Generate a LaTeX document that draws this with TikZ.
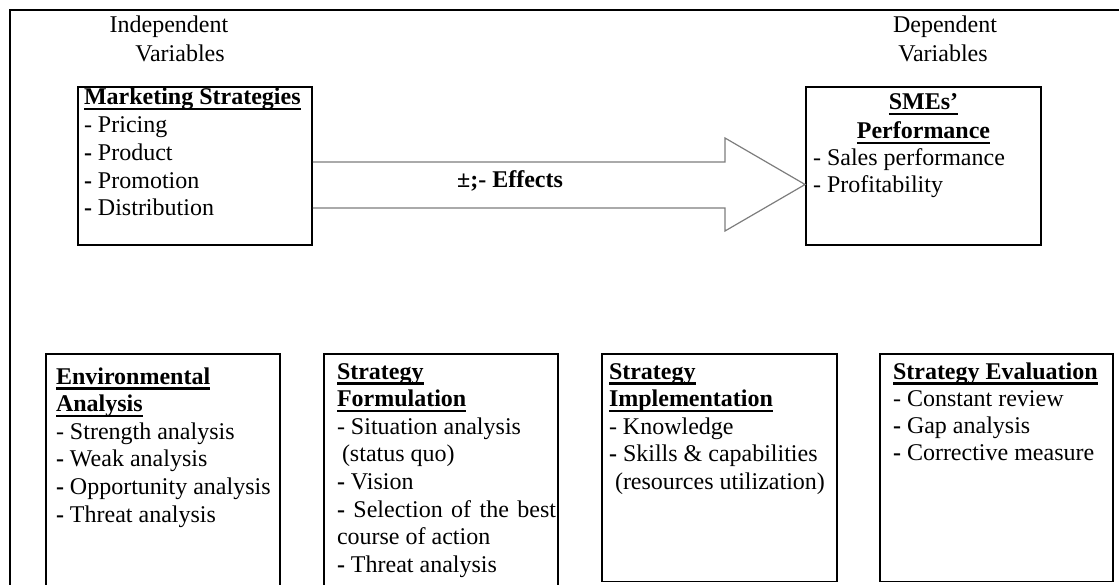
\documentclass[tikz,border=0pt]{standalone}
\usepackage{fontspec}
\setmainfont{Liberation Serif}
\newsavebox\ulbox
\newcommand\ulb[1]{\sbox\ulbox{#1}\rlap{\rule[-5.5pt]{\wd\ulbox}{2.4pt}}\usebox\ulbox}
\newcommand\bd{\textbf{-}}
\tikzset{
  boxst/.style={draw=black, line width=1.8pt, rectangle, inner sep=0pt},
  txt/.style={inner sep=0pt, outer sep=0pt, font=\fontsize{24}{27.6}\selectfont},
  ttl/.style={txt, font=\fontsize{24}{27.6}\selectfont\bfseries},
  frameline/.style={line width=2pt, draw=black},
  bigarrow/.style={draw={rgb,255:red,125;green,125;blue,125}, line width=1.2pt, line join=miter}
}
\begin{document}
\begin{tikzpicture}[x=1pt,y=-1pt]
\useasboundingbox (0,0) rectangle (1119,585);
% outer frame (top and left only)
\coordinate (fa) at (10,10);
\coordinate (fb) at (1119,10);
\coordinate (fc) at (10,585);
\draw[frameline] (fb) -- (fa) -- (fc);

% headings
\node[txt, anchor=base] (ind1) at (169,33) {Independent};
\node[txt, anchor=base] (ind2) at (180,62) {Variables};
\node[txt, anchor=base] (dep1) at (945,33) {Dependent};
\node[txt, anchor=base] (dep2) at (943,62) {Variables};

% top boxes
\node[boxst, minimum width=234pt, minimum height=158pt] (mkt) at (195,166) {};
\node[boxst, minimum width=235pt, minimum height=158pt] (sme) at (923.5,166) {};

% big arrow
\draw[bigarrow] (mkt.east |- 0,162) -- (725,162) -- (725,138) -- (sme.west |- 0,184.5)
  -- (725,231) -- (725,208) -- (mkt.east |- 0,208);
\node[ttl, anchor=base] (eff) at (510,188) {±;- Effects};

% marketing text
\foreach \t [count=\i from 0] in {{\textbf{\ulb{Marketing Strategies}}},{- Pricing},{\bd{} Product},{\bd{} Promotion},{\bd{} Distribution}}
  \node[txt, anchor=base west] (mkt-\i) at (84,{105+27.7*\i}) {\t};

% SMEs text
\node[ttl, anchor=base] (sme-t1) at (923.5,110) {\ulb{SMEs’}};
\node[ttl, anchor=base] (sme-t2) at (923.5,139) {\ulb{Performance}};
\node[txt, anchor=base west] (sme-l1) at (813,166) {- Sales performance};
\node[txt, anchor=base west] (sme-l2) at (813,193) {- Profitability};

% bottom boxes
\node[boxst, minimum width=234pt, minimum height=238pt] (env) at (163,473) {};
\node[boxst, minimum width=234pt, minimum height=238pt] (frm) at (441,473) {};
\node[boxst, minimum width=235pt, minimum height=227.5pt] (imp) at (719.5,467.75) {};
\node[boxst, minimum width=233pt, minimum height=227.5pt] (evl) at (996.5,467.75) {};

\foreach \t [count=\i from 0] in {{\textbf{\ulb{Environmental}}},{\textbf{\ulb{Analysis}}},{- Strength analysis},{\bd{} Weak analysis},{\bd{} Opportunity analysis},{\bd{} Threat analysis}}
  \node[txt, anchor=base west] (env-\i) at (56,{384+27.6*\i}) {\t};

\foreach \t [count=\i from 0] in {{\textbf{\ulb{Strategy}}},{\textbf{\ulb{Formulation}}},{- Situation analysis},{\hspace*{5pt}(status quo)},{\bd{} Vision},{\makebox[219pt][s]{\bd{} Selection of the best}},{course of action},{\bd{} Threat analysis}}
  \node[txt, anchor=base west] (frm-\i) at (337,{379+27.6*\i}) {\t};

\foreach \t [count=\i from 0] in {{\textbf{\ulb{Strategy}}},{\textbf{\ulb{Implementation}}},{- Knowledge},{\bd{} Skills \& capabilities},{\hspace*{6pt}(resources utilization)}}
  \node[txt, anchor=base west] (imp-\i) at (609,{379+27.6*\i}) {\t};

\foreach \t [count=\i from 0] in {{\textbf{\ulb{Strategy Evaluation}}},{- Constant review},{\bd{} Gap analysis},{\bd{} Corrective measure}}
  \node[txt, anchor=base west] (evl-\i) at (893,{379+27.3*\i}) {\t};
\end{tikzpicture}
\end{document}
